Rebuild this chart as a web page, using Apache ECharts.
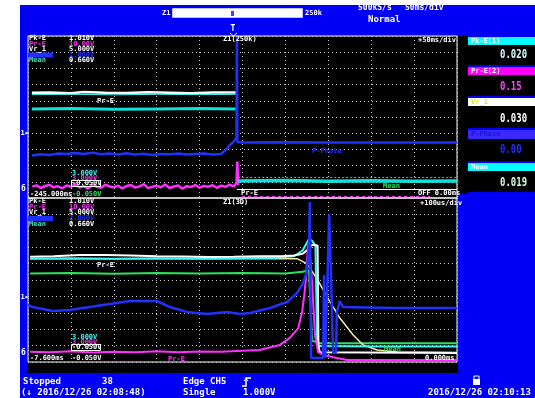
<!DOCTYPE html>
<html><head><meta charset="utf-8">
<script src="https://cdn.jsdelivr.net/npm/echarts@6/dist/echarts.min.js"></script>
<style>html,body{margin:0;padding:0;background:#fff;}#c{width:535px;height:398px;}</style>
</head><body><div id="c"></div>
<script>
// ---- data (x, y in screen divisions) ----
const legendNames = ['Pk-E','Pr-E','Vr_1','P-Phase','Mean'];
const upperScales = ['1.010V','10.00V','5.000V','1.000V','0.660V'];
const lowerScales = ['1.010V','10.00V','5.000V','2.000V','0.660V'];
const measNames = ['Pk-E(1)','Pr-E(2)','Vr_1','P-Phase','Mean'];
const measValues = ['0.020','0.15','0.030','0.00','0.019'];

const upperWhite = [[0.09,6.5],[0.5,6.52],[1.0,6.47],[1.3,6.55],[1.8,6.5],[2.3,6.48],[2.8,6.53],[3.3,6.5],[3.8,6.47],[4.3,6.52],[4.85,6.52]];
const upperWhiteCyan = [[0.09,6.38],[1,6.4],[2,6.37],[3,6.4],[4,6.38],[4.85,6.4]];
const upperCyan = [[0.09,5.5],[1,5.52],[2,5.48],[3,5.5],[4,5.52],[4.85,5.5]];
const upperBlue = [[0.09,2.62],[0.3,2.70],[0.5,2.66],[0.7,2.75],[0.9,2.71],[1.1,2.78],[1.3,2.72],[1.5,2.80],[1.7,2.70],[1.9,2.74],[2.1,2.68],[2.3,2.76],[2.5,2.69],[2.7,2.73],[2.9,2.66],[3.1,2.72],[3.3,2.70],[3.5,2.75],[3.7,2.68],[3.9,2.71],[4.1,2.74],[4.3,2.69],[4.5,2.72],[4.6,2.95],[4.7,3.25],[4.8,3.5],[4.86,3.7],[4.87,10],[4.88,3.45],[5.0,3.42],[6,3.44],[7,3.42],[8,3.43],[9,3.42],[10,3.42]];
const upperMagenta = [[0.1,0.70],[0.2,0.78],[0.3,0.62],[0.4,0.74],[0.5,0.81],[0.6,0.66],[0.7,0.72],[0.8,0.60],[0.9,0.77],[1.0,0.69],[1.1,0.84],[1.2,0.65],[1.3,0.73],[1.4,0.58],[1.5,0.79],[1.6,0.70],[1.7,0.63],[1.8,0.82],[1.9,0.71],[2.0,0.67],[2.1,0.76],[2.2,0.59],[2.3,0.74],[2.4,0.80],[2.5,0.64],[2.6,0.72],[2.7,0.86],[2.8,0.61],[2.9,0.70],[3.0,0.75],[3.1,0.66],[3.2,0.83],[3.3,0.62],[3.4,0.71],[3.5,0.78],[3.6,0.57],[3.7,0.73],[3.8,0.68],[3.9,0.80],[4.0,0.64],[4.1,0.74],[4.2,0.70],[4.3,0.79],[4.4,0.63],[4.5,0.76],[4.6,0.69],[4.7,0.82],[4.8,0.72],[4.86,0.95],[4.88,2.25],[4.9,0.8]];
const upperCyanPost = [[4.9,1.05],[6,1.08],[7,1.03],[8,1.06],[9,1.04],[10,1.05]];
const upperGreenPost = [[4.9,1.27],[10,1.27]];

const lowerWhite = [[0.05,6.42],[0.6,6.45],[1.2,6.52],[1.8,6.52],[2.4,6.5],[3.0,6.45],[3.6,6.43],[4.2,6.4],[4.8,6.42],[5.4,6.45],[5.9,6.45],[6.2,6.5],[6.4,6.6],[6.55,6.9],[6.62,7.15],[6.75,7.1],[6.77,1.0],[6.8,0.6],[10,0.55]];
const lowerYellow = [[0.05,6.3],[6.27,6.3],[6.5,6.0],[6.73,5.1],[7.04,3.66],[7.27,2.68],[7.58,1.65],[7.81,1.04],[8.14,0.73],[8.6,0.61],[10,0.58]];
const lowerCyan = [[0.05,6.3],[1,6.32],[2,6.3],[3,6.33],[4,6.3],[5,6.32],[5.8,6.35],[6.2,6.45],[6.4,6.8],[6.55,7.5],[6.62,7.4],[6.7,7.1],[6.74,1.1],[6.8,0.98],[8,0.95],[10,0.95]];
const lowerGreen = [[0.05,5.4],[1,5.42],[2,5.38],[3,5.42],[4,5.4],[5,5.42],[6,5.4],[6.4,5.5],[6.55,5.6],[6.62,1.3],[6.8,1.15],[10,1.15]];
const lowerBlue = [[0.0,3.48],[0.1,3.35],[0.58,3.11],[0.98,3.17],[1.75,3.48],[2.38,3.72],[3.0,3.72],[3.31,3.35],[3.71,3.05],[4.17,2.93],[4.64,3.05],[4.94,2.93],[5.17,2.99],[5.64,3.29],[6.04,3.66],[6.27,4.2],[6.41,4.8],[6.5,5.5],[6.55,7.1],[6.57,9.75],[6.6,0.25],[6.88,0.25],[6.9,5.3],[6.93,0.25],[6.97,0.25],[7.02,9.0],[7.06,5.5],[7.11,0.6],[7.18,0.6],[7.2,3.05],[7.27,3.72],[7.34,3.35],[8.5,3.3],[10,3.3]];
const lowerMagenta = [[0.05,0.62],[0.5,0.6],[1,0.65],[1.5,0.58],[2,0.63],[2.5,0.6],[3,0.66],[3.5,0.6],[4,0.64],[4.5,0.62],[5,0.68],[5.4,0.73],[5.87,1.04],[6.1,1.46],[6.3,2.07],[6.39,3.05],[6.44,4.08],[6.48,5.12],[6.5,6.1],[6.53,7.13],[6.55,7.3],[6.62,4.88],[6.69,1.65],[6.76,0.6],[6.88,0.43],[7.2,0.25],[7.44,0.12],[10,0.12]];

// ---- colours ----
const C = {bg:'#0000f5', white:'#ffffff', cyan:'#10e0d8', cyan2:'#40f4f4', mag:'#ff30ff', blue:'#2030ff', green:'#30e060', yellow:'#f4f0a0'};
const MONO = 'bold 9px "DejaVu Sans Mono"';
const MID = 'bold 8px "DejaVu Sans Mono"';
const SMALL = 'bold 7px "DejaVu Sans Mono"';

function txt(x, y, s, fill, font, align, extra) {
  return Object.assign({type:'text', x:x, y:y, z:100, silent:true,
    style:{text:s, fill:fill, font:font||MONO, textAlign:align||'left', textVerticalAlign:'middle'}}, extra||{});
}
function rect(x, y, w, h, fill, z, stroke) {
  return {type:'rect', z:(z===undefined?-100:z), silent:true, shape:{x:x,y:y,width:w,height:h},
    style:{fill:fill, stroke:stroke||null, lineWidth:1}};
}
function hline(x1, x2, y, stroke, dash) {
  return {type:'line', z:50, silent:true, shape:{x1:x1,y1:y,x2:x2,y2:y}, style:{stroke:stroke, lineWidth:1, lineDash:dash||null}};
}

const g = [];
// backgrounds
g.push(rect(20,5,515,393,C.bg,-200));
g.push(rect(27,36,431,337,'#000',-150));
g.push(rect(458,36,10,158,'#000',-150));
// top bar
g.push(txt(162,13,'Z1',C.white,SMALL));
g.push(rect(172.5,8.5,130,9,'#ffffff',90,'#c0c0ff'));
g.push(hline(174,300,13.5,'#9090ff'));
g.push(rect(231,11,3,5,'#4040ff',95));
g.push(txt(305,13,'250k',C.white,SMALL));
g.push(txt(358,8,'500kS/s',C.white,MID));
g.push(txt(405,8,'50ms/div',C.white,MID));
g.push(txt(368,20,'Normal',C.white,MONO));
g.push(txt(233,29,'T',C.white,'bold 8px "DejaVu Sans Mono"','center'));
g.push({type:'polyline', z:100, silent:true, shape:{points:[[230,33],[233.5,36],[237,33]]}, style:{stroke:C.white, fill:null, lineWidth:1}});
// right measurement panel
const headY = [37,67,98,130,163];
const headH = [8,8,8,9,8];
const boxEnd = [65,96,128,161,192];
const headC = ['#00ffff','#ff00ff','#ffffff','#3a28ff','#00ffff'];
const headT = ['#ffffff','#ffffff','#e0e020','#1818d0','#ffffff'];
const valC = ['#d0ffff','#ff40ff','#ffffff','#1a30ff','#d8ffd8'];
const valY = [55,87,119,150,183];
for (let i=0;i<5;i++){
  g.push(rect(468,headY[i],67,headH[i],headC[i],-90));
  g.push(rect(468,headY[i]+headH[i],67,boxEnd[i]-headY[i]-headH[i],'#000',-90));
  g.push(txt(471,headY[i]+headH[i]/2,measNames[i],headT[i],SMALL));
  g.push(txt(500,valY[i],measValues[i],valC[i],'bold 9px "DejaVu Sans Mono"','left',{scaleY:1.45, originX:0, originY:0}));
}
// plot legends
const legC = ['#ffffff',C.mag,'#ffffff',C.blue,'#40e0c0'];
const legV = ['#ffffff',C.mag,'#ffffff',C.blue,'#ffffff'];
const upRows = [38,44,49.5,55,60.5];
const loRows = [201,207,212.5,218.5,224];
for (let i=0;i<5;i++){
  if (i===3){ g.push(rect(28,upRows[i]-2.5,25,5,C.blue,60)); g.push(rect(28,loRows[i]-2.5,25,5,C.blue,60)); }
  else { g.push(txt(29,upRows[i],legendNames[i],legC[i],SMALL)); g.push(txt(29,loRows[i],legendNames[i],legC[i],SMALL)); }
  g.push(txt(69,upRows[i],upperScales[i],legV[i],SMALL));
  g.push(txt(69,loRows[i],lowerScales[i],legV[i],SMALL));
}
// upper plot labels
g.push(txt(223,39,'Z1(250k)',C.white,SMALL));
g.push(txt(418,40,'+50ms/div',C.white,SMALL));
g.push(txt(97,101,'Pr-E',C.white,SMALL));
g.push(txt(312,151,'P-Phase',C.blue,SMALL));
g.push(txt(383,186,'Mean',C.green,SMALL));
g.push(txt(72,173,'3.000V',C.cyan2,SMALL));
g.push(txt(72,178,'3.000V',C.mag,SMALL));
g.push(txt(72,183.5,'-0.050V',C.white,SMALL));
g.push(rect(71.5,180.5,29,6,null,60,'#ffffff'));
g.push(txt(30,194,'-245.000ms',C.white,SMALL));
g.push(txt(72,194,'-0.050V',C.green,SMALL));
g.push(hline(237,457,189.5,C.white));
g.push(txt(241,193,'Pr-E',C.white,SMALL));
g.push(txt(418,193.5,'OFF 0.00ms',C.white,SMALL));
g.push(hline(242,430,196.5,C.mag,[3,3]));
// lower plot labels
g.push(txt(223,202.5,'Z1(3D)',C.white,SMALL));
g.push(txt(420,203,'+100us/div',C.white,SMALL));
g.push(txt(97,265,'Pr-E',C.white,SMALL));
g.push(txt(384,349,'Mean',C.green,SMALL));
g.push(txt(72,337,'3.000V',C.cyan2,SMALL));
g.push(txt(72,342,'3.000V',C.mag,SMALL));
g.push(txt(72,347.5,'-0.050V',C.white,SMALL));
g.push(rect(71.5,344.5,29,6,null,60,'#ffffff'));
g.push(txt(30,358,'-7.600ms',C.white,SMALL));
g.push(txt(72,358,'-0.050V',C.white,SMALL));
g.push(txt(168,359,'Pr-E',C.mag,SMALL));
g.push(txt(425,358,'0.000ms',C.white,SMALL));
// channel markers at left
g.push(txt(20.5,133,'1▸',C.white,SMALL));
g.push(txt(21,189,'6',C.white,'bold 8px "DejaVu Sans Mono"'));
g.push(txt(20.5,297,'1▸',C.white,SMALL));
g.push(txt(21,353,'6',C.white,'bold 8px "DejaVu Sans Mono"'));
// bottom status
g.push(txt(23,382,'Stopped',C.white));
g.push(txt(102,382,'38',C.white));
g.push(txt(183,382,'Edge CH5',C.white));
g.push({type:'polyline', z:100, silent:true, shape:{points:[[242,386],[246,386],[246,378],[251,378]]}, style:{stroke:C.white, fill:null, lineWidth:1.5}});
g.push({type:'polyline', z:100, silent:true, shape:{points:[[244,381],[246,378.5],[248,381]]}, style:{stroke:C.white, fill:null, lineWidth:1}});
g.push(txt(21,393,'(\u2193 2016/12/26 02:08:48)',C.white));
g.push(txt(183,393,'Single',C.white));
g.push(txt(243,393,'1.000V',C.white));
g.push(rect(473,379,7,6,'#ffffff',100));
g.push({type:'polyline', z:100, silent:true, shape:{points:[[474,379],[474,376],[479,376],[479,379]]}, style:{stroke:C.white, fill:null, lineWidth:1}});
g.push(txt(428,393,'2016/12/26 02:10:13',C.white));

function ax(grid){
  return {gridIndex:grid, type:'value', min:0, max:10, interval:1,
    axisLine:{show:false}, axisTick:{show:false}, axisLabel:{show:false},
    splitLine:{show:true, lineStyle:{color:'#c8c8c8', type:[1,3], width:1}}};
}
function ser(data, color, w, grid, dash){
  return {type:'line', data:data, xAxisIndex:grid, yAxisIndex:grid, showSymbol:false, symbol:'none',
    lineStyle:{color:color, width:w, type:dash||'solid'}, animation:false, silent:true, clip:true};
}

const chart = echarts.init(document.getElementById('c'), null, {renderer:'canvas'});
chart.setOption({
  animation:false,
  backgroundColor:'transparent',
  grid:[
    {left:28, top:36, width:429, height:162, show:true, borderColor:'#ffffff', borderWidth:1, backgroundColor:'transparent'},
    {left:28, top:198, width:429, height:164, show:true, borderColor:'#ffffff', borderWidth:1, backgroundColor:'transparent'}
  ],
  xAxis:[ax(0), ax(1)],
  yAxis:[ax(0), ax(1)],
  series:[
    ser(upperCyan, C.cyan, 3, 0),
    ser(upperWhite, C.white, 2.5, 0),
    ser(upperWhiteCyan, C.cyan2, 1, 0),
    ser(upperMagenta, C.mag, 2.5, 0),
    ser(upperBlue, C.blue, 2.5, 0),
    ser(upperCyanPost, C.cyan, 3.5, 0),
    ser(upperGreenPost, C.green, 1, 0, [2,2]),
    ser(lowerGreen, C.green, 2, 1),
    ser(lowerYellow, C.yellow, 1.5, 1),
    ser(lowerCyan, C.cyan2, 2, 1),
    ser(lowerWhite, C.white, 2, 1),
    ser(lowerMagenta, C.mag, 2, 1),
    ser(lowerBlue, C.blue, 2.5, 1)
  ],
  graphic:{elements:g}
});
</script></body></html>
